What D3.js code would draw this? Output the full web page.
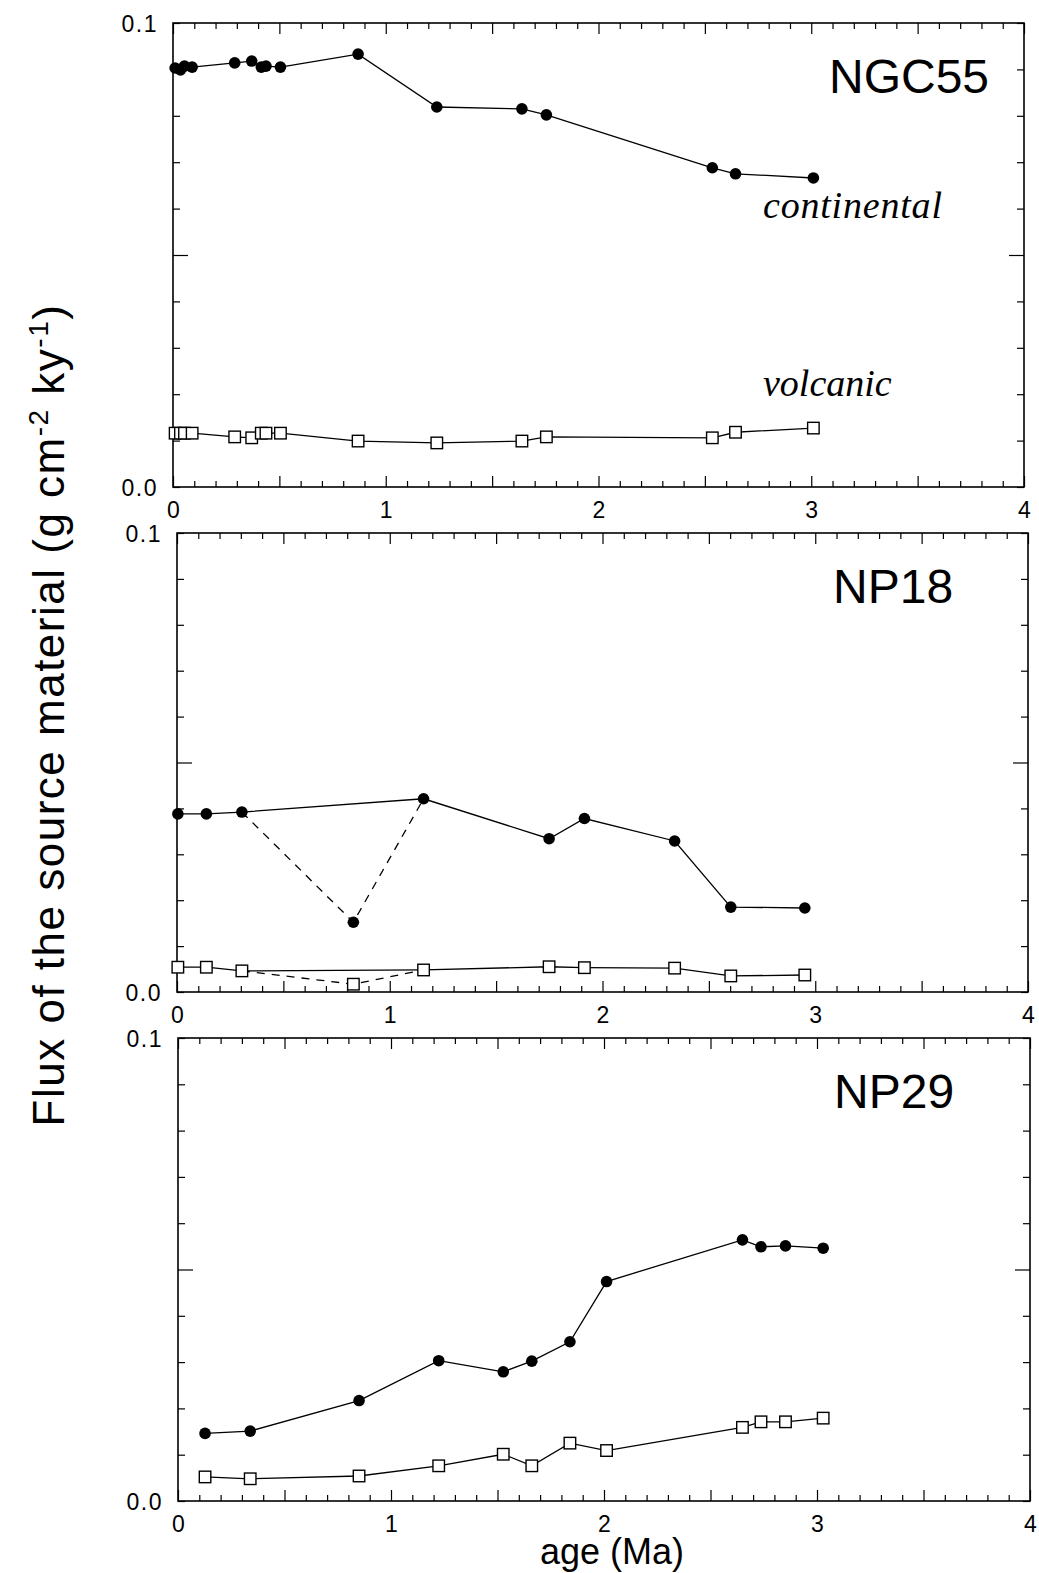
<!DOCTYPE html>
<html>
<head>
<meta charset="utf-8">
<script src="https://cdn.jsdelivr.net/npm/d3@7"></script>
<style>
  body { margin: 0; background: #fff; }
  svg { display: block; font-family: "Liberation Sans", Arial, Helvetica, sans-serif; }
</style>
</head>
<body>
<div id="chart"></div>
<script>
// ages (Ma) and fluxes (g cm-2 ky-1)
const ngcAge  = [0.01, 0.035, 0.054, 0.09, 0.29, 0.37, 0.415, 0.437, 0.505, 0.87, 1.24, 1.64, 1.755, 2.535, 2.644, 3.01];
const ngcCont = [0.0903, 0.0899, 0.0907, 0.0905, 0.0914, 0.0918, 0.0905, 0.0907, 0.0905, 0.0933, 0.0819, 0.0815, 0.0802, 0.0688, 0.0675, 0.0666];
const ngcVolc = [0.0116, 0.0116, 0.0116, 0.0116, 0.0108, 0.0106, 0.0116, 0.0116, 0.0116, 0.0099, 0.0095, 0.0099, 0.0108, 0.0106, 0.0118, 0.0127];

const np18Age  = [0.004, 0.138, 0.305, 0.829, 1.159, 1.749, 1.915, 2.339, 2.603, 2.951];
const np18Cont = [0.0388, 0.0388, 0.0392, 0.0152, 0.0421, 0.0334, 0.0378, 0.0329, 0.0185, 0.0183];
const np18Volc = [0.0054, 0.0054, 0.0046, 0.0017, 0.0048, 0.0055, 0.0053, 0.0052, 0.0035, 0.0037];
const np18Dashed = 3; // this point is only joined by the dashed line

const np29Age  = [0.127, 0.339, 0.85, 1.224, 1.527, 1.661, 1.84, 2.012, 2.65, 2.737, 2.852, 3.029];
const np29Cont = [0.0146, 0.0151, 0.0217, 0.0303, 0.0279, 0.0302, 0.0344, 0.0474, 0.0564, 0.0549, 0.0551, 0.0546];
const np29Volc = [0.0052, 0.0048, 0.0054, 0.0076, 0.0101, 0.0076, 0.0125, 0.0109, 0.0159, 0.0171, 0.0171, 0.0179];

const xTickLabels = [0, 1, 2, 3, 4];
const yTickLabels = ["0.0", "0.1"];

const width = 1039, height = 1573;

const panels = [
  { name: "NGC55", age: ngcAge, cont: ngcCont, volc: ngcVolc, top: 23, bottom: 487, left: 173, right: 1024, dashed: null },
  { name: "NP18", age: np18Age, cont: np18Cont, volc: np18Volc, top: 533, bottom: 992, left: 177, right: 1028, dashed: np18Dashed },
  { name: "NP29", age: np29Age, cont: np29Cont, volc: np29Volc, top: 1038, bottom: 1501, left: 178, right: 1030, dashed: null },
];

const svg = d3.select("#chart").append("svg")
  .attr("width", width)
  .attr("height", height)
  .attr("viewBox", [0, 0, width, height]);

const xMinor = d3.range(0, 41).map((i) => i / 10);
const yMinor = d3.range(0, 11).map((i) => i / 100);
const isInt = (d) => Math.abs(d - Math.round(d)) < 1e-6;
const isHalf = (d) => Math.abs(d * 2 - Math.round(d * 2)) < 1e-6;
const xLen = (d) => (isHalf(d) ? 11 : 6);
const yLen = (d) => (Math.abs(d - 0.05) < 1e-6 ? 15 : 7);

panels.forEach((p) => {
  const x = d3.scaleLinear().domain([0, 4]).range([p.left, p.right]);
  const y = d3.scaleLinear().domain([0, 0.1]).range([p.bottom, p.top]);
  const g = svg.append("g");

  // bottom axis with labels
  const bx = g.append("g").attr("transform", `translate(0,${p.bottom})`)
    .call(d3.axisBottom(x).tickValues(xMinor).tickSizeOuter(0)
      .tickFormat((d) => (isInt(d) && xTickLabels.includes(Math.round(d)) ? Math.round(d) : "")));
  bx.select(".domain").remove();
  bx.selectAll(".tick line").attr("y2", (d) => -xLen(d)).attr("stroke-width", 1.2);
  bx.selectAll(".tick text").attr("y", 15).attr("dy", "0.71em")
    .style("font-size", "23px").style("font-family", "'Liberation Sans', Arial, sans-serif");

  // top axis, ticks only
  const tx = g.append("g").attr("transform", `translate(0,${p.top})`)
    .call(d3.axisTop(x).tickValues(xMinor).tickSizeOuter(0).tickFormat(""));
  tx.select(".domain").remove();
  tx.selectAll(".tick line").attr("y2", (d) => xLen(d)).attr("stroke-width", 1.2);

  // left axis with 0.0 / 0.1
  const ly = g.append("g").attr("transform", `translate(${p.left},0)`)
    .call(d3.axisLeft(y).tickValues(yMinor).tickSizeOuter(0)
      .tickFormat((d) => (d < 1e-6 ? yTickLabels[0] : Math.abs(d - 0.1) < 1e-6 ? yTickLabels[1] : "")));
  ly.select(".domain").remove();
  ly.selectAll(".tick line").attr("x2", (d) => yLen(d)).attr("stroke-width", 1.2);
  ly.selectAll(".tick text").attr("x", -15).attr("dy", "0.36em")
    .style("font-size", "23px").style("letter-spacing", "1.5px")
    .style("font-family", "'Liberation Sans', Arial, sans-serif");

  // right axis, ticks only
  const ry = g.append("g").attr("transform", `translate(${p.right},0)`)
    .call(d3.axisRight(y).tickValues(yMinor).tickSizeOuter(0).tickFormat(""));
  ry.select(".domain").remove();
  ry.selectAll(".tick line").attr("x2", (d) => -yLen(d)).attr("stroke-width", 1.2);

  // frame
  g.append("rect")
    .attr("x", p.left).attr("y", p.top)
    .attr("width", p.right - p.left).attr("height", p.bottom - p.top)
    .attr("fill", "none").attr("stroke", "#000").attr("stroke-width", 1.6);

  const line = d3.line().x((d) => x(d[0])).y((d) => y(d[1]));

  [p.cont, p.volc].forEach((vals) => {
    const pts = p.age.map((a, i) => [a, vals[i], i]);
    const solid = pts.filter((d) => d[2] !== p.dashed);
    g.append("path").datum(solid).attr("d", line)
      .attr("fill", "none").attr("stroke", "#000").attr("stroke-width", 1.3);
    if (p.dashed !== null) {
      const k = p.dashed;
      g.append("path").datum([pts[k - 1], pts[k], pts[k + 1]]).attr("d", line)
        .attr("fill", "none").attr("stroke", "#000").attr("stroke-width", 1.3)
        .attr("stroke-dasharray", "8,7");
    }
  });

  // continental: filled circles
  g.append("g").selectAll("circle")
    .data(p.age.map((a, i) => [a, p.cont[i]]))
    .join("circle")
    .attr("cx", (d) => x(d[0])).attr("cy", (d) => y(d[1]))
    .attr("r", 5.8).attr("fill", "#000");

  // volcanic: open squares
  const s = 11.5;
  g.append("g").selectAll("rect")
    .data(p.age.map((a, i) => [a, p.volc[i]]))
    .join("rect")
    .attr("x", (d) => x(d[0]) - s / 2).attr("y", (d) => y(d[1]) - s / 2)
    .attr("width", s).attr("height", s)
    .attr("fill", "#fff").attr("stroke", "#000").attr("stroke-width", 1.4);

  g.append("text")
    .attr("x", p.left + 656).attr("y", p.top + 70)
    .attr("font-size", 48)
    .text(p.name);
});

// series names in the first panel
svg.append("text").attr("x", 763).attr("y", 218)
  .attr("font-family", "'Liberation Serif', 'Times New Roman', serif")
  .attr("font-style", "italic").attr("font-size", 38).attr("letter-spacing", 0.8)
  .text("continental");
svg.append("text").attr("x", 763).attr("y", 396)
  .attr("font-family", "'Liberation Serif', 'Times New Roman', serif")
  .attr("font-style", "italic").attr("font-size", 38)
  .text("volcanic");

// axis titles
svg.append("text")
  .attr("x", 612).attr("y", 1564)
  .attr("text-anchor", "middle").attr("font-size", 36)
  .text("age (Ma)");

const yTitle = svg.append("text")
  .attr("transform", "translate(64,715) rotate(-90)")
  .attr("text-anchor", "middle").attr("font-size", 44).attr("letter-spacing", 1.5);
yTitle.append("tspan").text("Flux of the source material (g cm");
yTitle.append("tspan").attr("dy", -16).attr("font-size", 28).text("-2");
yTitle.append("tspan").attr("dy", 16).text(" ky");
yTitle.append("tspan").attr("dy", -16).attr("font-size", 28).text("-1");
yTitle.append("tspan").attr("dy", 16).text(")");
</script>
</body>
</html>
